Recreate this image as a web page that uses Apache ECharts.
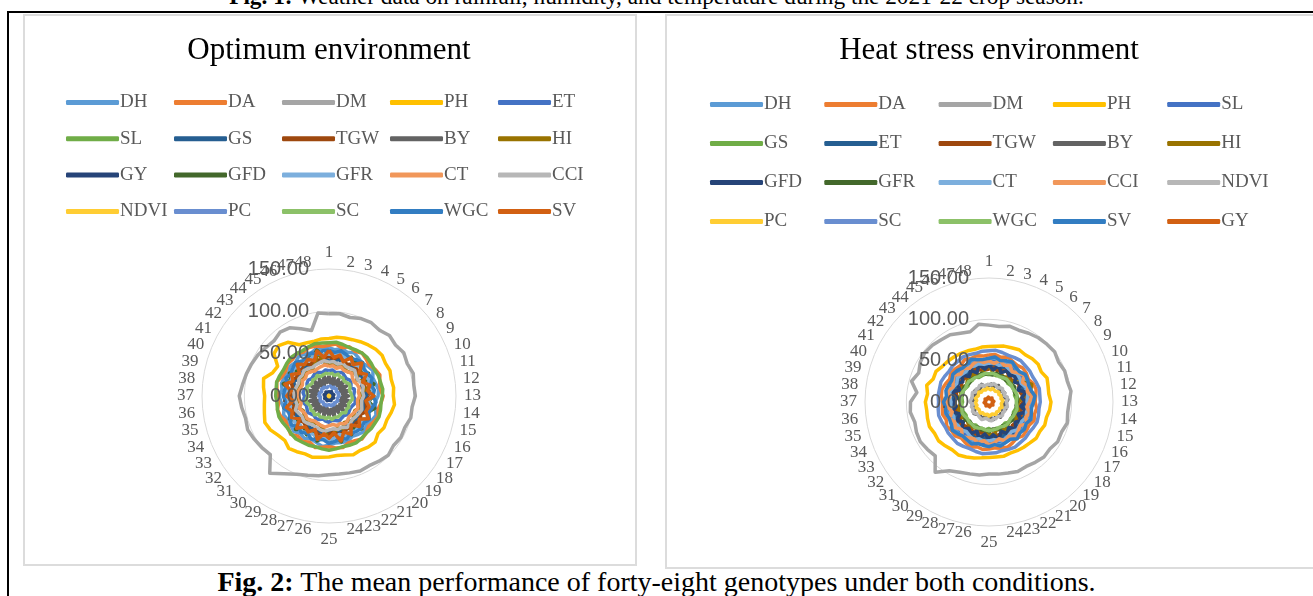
<!DOCTYPE html>
<html>
<head>
<meta charset="utf-8">
<script src="https://cdn.jsdelivr.net/npm/echarts@6/dist/echarts.min.js"></script>
<style>
  html, body { margin: 0; padding: 0; background: #fff; }
  #page { position: relative; width: 1313px; height: 596px; overflow: hidden; background: #fff; }
  .cap { position: absolute; left: 0; width: 1313px; text-align: center; font-family: 'Liberation Serif', serif; color: #000; white-space: nowrap; }
  #cap1 { top: -15px; font-size: 23.3px; line-height: 23px; }
  #cap2 { top: 567px; font-size: 28px; line-height: 30px; }
  #frame { position: absolute; left: 7px; top: 11px; width: 1320px; height: 600px; border-top: 2px solid #000; border-left: 2px solid #000; }
  .panel { position: absolute; border: 2px solid #dcdcdc; box-sizing: border-box; }
  #chart { position: absolute; left: 0; top: 0; width: 1313px; height: 596px; }
</style>
</head>
<body>
<div id="page">
  <div class="cap" id="cap1"><b>Fig. 1:</b> Weather data on rainfall, humidity, and temperature during the 2021-22 crop season.</div>
  <div id="frame"></div>
  <div class="panel" style="left:23px;top:14px;width:614px;height:552px;"></div>
  <div class="panel" style="left:665px;top:14px;width:660px;height:555px;"></div>
  <div class="cap" id="cap2"><b>Fig. 2:</b> The mean performance of forty-eight genotypes under both conditions.</div>
  <div id="chart"></div>
</div>
<script>
// genotype labels round the radar
var genotypes = ['1','2','3','4','5','6','7','8','9','10','11','12','13','14','15','16',
  '17','18','19','20','21','22','23','24','25','26','27','28','29','30','31','32',
  '33','34','35','36','37','38','39','40','41','42','43','44','45','46','47','48'];
var radiusTicks = [0, 50, 100, 150];

// legend order of each panel
var optNames = ['DH','DA','DM','PH','ET','SL','GS','TGW','BY','HI','GY','GFD','GFR','CT','CCI','NDVI','PC','SC','WGC','SV'];
var heatNames = ['DH','DA','DM','PH','SL','GS','ET','TGW','BY','HI','GFD','GFR','CT','CCI','NDVI','PC','SC','WGC','SV','GY'];

// Optimum environment
var optDH = [57,55,58,56,59,57,55,58,60,56,57,59,58,55,57,60,58,56,59,57,55,58,57,56,58,60,57,55,58,56,59,57,56,58,55,57,59,56,58,57,55,58,56,59,57,55,58,56];
var optDA = [60,62,59,63,61,64,62,60,63,65,62,61,64,62,60,63,61,59,62,64,61,60,63,62,60,61,63,59,62,60,64,61,59,62,63,60,61,62,64,60,59,62,61,63,60,62,61,59];
var optDM = [97,98,96,99,100,98,101,99,102,100,103,101,102,99,100,97,98,96,99,97,95,96,94,93,93,95,97,100,106,115,98,100,102,104,102,104,106,103,101,99,97,94,92,95,93,86,80,99];
var optPH = [68,70,71,72,74,76,78,79,77,78,76,77,76,78,76,74,75,73,77,76,74,75,72,71,72,73,75,74,76,78,74,76,80,82,79,77,76,78,80,72,70,82,84,80,70,68,67,68];
var optET = [30,31,29,30,32,30,29,31,30,28,31,30,29,31,32,30,29,30,31,29,30,32,30,29,31,30,28,30,31,29,30,32,30,29,31,30,29,31,30,28,30,31,29,30,32,30,29,31];
var optSL = [63,64,63,62,63,64,64,63,62,63,63,64,63,62,63,64,63,63,62,63,64,63,62,63,64,63,62,63,63,64,63,62,63,64,63,62,63,63,64,63,62,63,64,63,62,63,64,63];
var optGS = [43,41,45,42,40,44,43,41,46,42,40,43,45,41,42,44,40,43,42,45,41,43,44,40,42,45,43,41,44,42,40,43,45,42,41,44,43,40,42,45,41,43,42,44,40,43,41,42];
var optTGW = [47,44,49,45,43,48,46,44,50,45,43,47,49,44,46,48,43,47,45,49,44,46,48,43,45,49,47,44,48,45,43,47,49,45,44,48,46,43,45,49,44,47,46,48,43,46,44,45];
var optBY = [24,15,25,14,23,16,26,15,24,14,25,16,23,15,26,14,24,16,25,15,23,14,26,16,24,15,25,14,23,16,26,15,24,14,25,16,23,15,26,14,24,16,25,15,23,14,26,16];
var optHI = [36,38,35,40,37,36,39,42,38,45,53,40,37,36,39,38,35,37,40,38,36,42,39,44,52,41,37,35,38,36,39,37,35,38,40,36,37,39,36,38,41,37,39,36,38,42,53,40];
var optGY = [5,5,4,5,6,5,5,4,5,5,6,5,4,5,5,6,5,5,4,5,5,6,5,5,4,5,5,6,5,4,5,5,6,5,5,4,5,5,6,5,4,5,5,6,5,5,4,5];
var optGFD = [54,48,55,47,53,50,56,46,54,49,55,48,53,47,56,50,54,46,55,49,53,48,56,47,54,50,55,46,53,49,56,48,54,47,55,50,53,46,56,49,54,48,55,47,53,50,56,48];
var optGFR = [50,48,52,49,51,47,50,53,48,51,49,52,50,47,51,49,53,48,50,52,49,51,47,50,52,48,51,49,50,53,48,51,49,52,47,50,51,49,52,48,50,53,49,51,48,50,52,49];
var optCT = [35,36,34,37,35,36,38,35,34,36,37,35,36,34,35,37,36,35,34,36,38,35,36,34,35,37,36,35,34,36,37,35,36,38,34,35,36,37,35,34,36,35,37,36,34,35,36,37];
var optCCI = [40,41,39,42,40,41,43,40,39,41,42,40,41,39,40,42,41,40,39,41,43,40,41,39,40,42,41,40,39,41,42,40,41,43,39,40,41,42,40,39,41,40,42,41,39,40,41,42];
var optNDVI = [0.8,0.7,0.8,0.8,0.7,0.8,0.8,0.7,0.8,0.8,0.7,0.8,0.8,0.7,0.8,0.8,0.7,0.8,0.8,0.7,0.8,0.8,0.7,0.8,0.8,0.7,0.8,0.8,0.7,0.8,0.8,0.7,0.8,0.8,0.7,0.8,0.8,0.7,0.8,0.8,0.7,0.8,0.8,0.7,0.8,0.8,0.7,0.8];
var optPC = [11,12,11,10,12,11,12,11,10,11,12,11,12,11,10,11,12,11,11,10,12,11,12,11,10,11,12,11,12,11,10,11,12,11,11,10,12,11,12,11,10,11,12,11,12,11,10,11];
var optSC = [26,27,25,28,26,27,25,26,28,27,25,26,27,28,26,25,27,26,28,25,26,27,26,28,25,27,26,27,25,28,26,27,25,26,28,27,25,26,27,28,26,25,27,26,28,25,26,27];
var optWGC = [54,52,55,53,51,54,56,52,53,55,51,54,52,56,53,51,55,52,54,53,51,55,52,54,56,52,53,55,51,54,52,56,53,51,55,52,54,53,51,55,52,54,56,52,53,55,51,54];
var optSV = [54,46,50,44,52,47,55,45,51,43,50,46,53,44,49,47,54,45,51,43,52,46,55,44,50,45,53,43,49,46,54,44,51,47,52,43,50,45,54,46,51,44,53,47,50,45,55,46];

// Heat stress environment
var heatDH = [50,52,49,51,53,50,48,51,52,49,50,53,51,48,50,52,49,51,50,53,48,50,52,49,51,50,48,52,50,49,51,53,50,48,51,50,52,49,51,50,48,52,51,49,50,53,50,49];
var heatDA = [57,58,56,59,57,56,58,57,55,58,59,57,56,58,57,59,56,57,58,55,57,59,58,56,57,58,56,59,57,55,58,57,59,56,58,57,56,58,59,57,55,58,57,56,59,57,58,56];
var heatDM = [93,92,95,94,96,98,99,100,97,99,98,100,97,96,98,95,96,93,94,92,90,91,89,88,87,89,90,92,96,107,92,94,96,95,93,96,95,88,97,92,96,98,97,95,94,90,88,95];
var heatPH = [67,68,70,71,73,72,74,75,73,76,74,73,75,74,72,73,71,72,70,69,68,67,68,67,67,68,70,72,74,73,75,77,76,78,77,76,77,75,78,73,74,71,70,69,68,67,66,67];
var heatSL = [48,49,47,48,50,48,47,49,48,47,49,50,48,47,48,49,47,48,50,49,47,48,49,48,47,50,48,49,47,48,49,48,50,47,48,49,47,48,50,48,47,49,48,47,49,50,48,47];
var heatGS = [33,34,33,35,33,34,32,33,35,34,32,33,34,35,33,32,34,33,35,32,33,34,33,35,32,34,33,34,32,35,33,34,32,33,35,34,32,33,34,35,33,32,34,33,35,32,33,34];
var heatET = [44,46,43,45,47,44,43,46,45,43,44,47,45,43,44,46,43,45,44,47,43,44,46,43,45,44,43,46,44,43,45,47,44,43,45,44,46,43,45,44,43,46,45,43,44,47,44,43];
var heatTGW = [40,42,39,41,43,40,38,41,42,39,40,43,41,38,40,42,39,41,40,43,38,40,42,39,41,40,38,42,40,39,41,43,40,38,41,40,42,39,41,40,38,42,41,39,40,43,40,39];
var heatBY = [20,22,19,21,23,20,18,21,22,19,20,23,21,18,20,22,19,21,20,23,18,20,22,19,21,20,18,22,20,19,21,23,20,18,21,20,22,19,21,20,18,22,21,19,20,23,20,19];
var heatHI = [44,36,34,37,35,38,36,40,48,56,52,40,36,34,37,35,38,36,34,37,39,36,35,42,38,36,34,37,35,38,36,34,37,35,38,36,34,37,35,38,36,34,37,35,38,36,34,40];
var heatGFD = [45,39,46,38,44,40,47,39,45,38,46,40,44,39,47,38,45,40,46,39,44,38,47,40,45,39,46,38,44,40,47,39,45,38,46,40,44,39,47,38,45,40,46,39,44,38,47,40];
var heatGFR = [34,33,36,34,35,33,34,35,36,33,34,35,34,33,35,34,33,36,34,35,33,35,34,33,36,34,35,33,35,34,33,36,34,35,33,34,35,36,33,34,35,34,33,35,34,33,36,34];
var heatCT = [47,48,46,49,47,46,48,47,45,48,49,47,46,48,47,49,46,47,48,45,47,49,48,46,47,48,46,49,47,45,48,47,49,46,48,47,46,48,49,47,45,48,47,46,49,47,48,46];
var heatCCI = [50,47,52,48,51,46,50,53,47,51,48,52,49,46,51,48,53,47,50,52,48,51,46,50,52,47,51,48,50,53,47,51,48,52,46,50,51,48,52,47,50,53,48,51,47,50,52,48];
var heatNDVI = [22,21,23,22,20,22,23,21,22,20,23,22,21,22,23,20,22,21,23,22,20,22,21,23,22,20,21,23,22,21,20,22,23,21,22,20,23,22,21,22,23,20,22,21,23,22,20,21];
var heatPC = [16,15,17,16,15,16,17,15,16,16,15,17,16,15,16,17,15,16,16,15,17,16,15,16,17,15,16,16,15,17,16,15,16,17,15,16,16,15,17,16,15,16,17,15,16,16,15,17];
var heatSC = [62,63,62,61,62,63,62,62,61,62,63,62,62,61,62,63,62,61,62,62,63,62,61,62,62,63,62,61,62,63,62,62,61,62,63,62,61,62,62,63,62,61,62,62,63,62,61,62];
var heatWGC = [34,35,34,33,34,35,34,34,33,34,35,34,33,34,35,34,34,33,34,35,34,33,34,34,35,34,33,34,35,34,34,33,34,35,34,33,34,34,35,34,33,34,35,34,34,33,34,35];
var heatSV = [53,55,52,54,56,53,52,55,54,52,53,56,54,52,53,55,52,54,53,56,52,53,55,52,54,53,52,55,53,52,54,56,53,52,54,53,55,52,54,53,52,55,54,52,53,56,53,52];
var heatGY = [5,5,4,5,5,6,5,5,4,5,5,6,5,5,4,5,5,6,5,5,4,5,5,6,5,5,4,5,5,6,5,5,4,5,5,6,5,5,4,5,5,6,5,5,4,5,5,6];

var optData = { DH: optDH, DA: optDA, DM: optDM, PH: optPH, ET: optET, SL: optSL, GS: optGS, TGW: optTGW, BY: optBY, HI: optHI,
  GY: optGY, GFD: optGFD, GFR: optGFR, CT: optCT, CCI: optCCI, NDVI: optNDVI, PC: optPC, SC: optSC, WGC: optWGC, SV: optSV };
var heatData = { DH: heatDH, DA: heatDA, DM: heatDM, PH: heatPH, SL: heatSL, GS: heatGS, ET: heatET, TGW: heatTGW, BY: heatBY, HI: heatHI,
  GFD: heatGFD, GFR: heatGFR, CT: heatCT, CCI: heatCCI, NDVI: heatNDVI, PC: heatPC, SC: heatSC, WGC: heatWGC, SV: heatSV, GY: heatGY };

// excel office palette, by series position
var palette = ['#5B9BD5','#ED7D31','#A5A5A5','#FFC000','#4472C4','#70AD47','#255E91','#9E480E','#636363','#997300',
  '#264478','#43682B','#7CAFDD','#F1975A','#B7B7B7','#FFCD33','#698ED0','#8CC168','#327DC2','#D26012'];

var grey = '#595959';
var serif = "'Liberation Serif', 'Times New Roman', serif";

// echarts radar runs anticlockwise, excel clockwise: keep first, reverse rest
function cw(arr) {
  return [arr[0]].concat(arr.slice(1).reverse());
}

var panels = [
  { title: 'Optimum environment', names: optNames, data: optData, key: 'o:', cx: 329, cy: 396, r: 127,
    legX: 66, legDx: 108, legY: 103, legDy: 36.3 },
  { title: 'Heat stress environment', names: heatNames, data: heatData, key: 'h:', cx: 989, cy: 402, r: 124,
    legX: 710, legDx: 114.3, legY: 105, legDy: 39 }
];

var titles = [], radars = [], polars = [], angleAxes = [], radiusAxes = [], legends = [], series = [];

panels.forEach(function (p, k) {
  titles.push({
    text: p.title, left: p.cx, top: 35, textAlign: 'center', padding: 0,
    textStyle: { fontFamily: serif, fontSize: 31, fontWeight: 'normal', color: '#000' }
  });
  radars.push({
    center: [p.cx, p.cy], radius: p.r, startAngle: 90, shape: 'circle', splitNumber: 3,
    indicator: cw(genotypes).map(function (g) { return { name: g, min: 0, max: 150 }; }),
    axisName: { color: grey, fontFamily: serif, fontSize: 17 },
    nameGap: 8,
    splitLine: { lineStyle: { color: '#d9d9d9', width: 1 } },
    splitArea: { show: false },
    axisLine: { show: false },
    axisTick: { show: false },
    axisLabel: { show: false }
  });
  polars.push({ center: [p.cx, p.cy], radius: p.r });
  angleAxes.push({ polarIndex: k, type: 'value', min: 0, max: 360, startAngle: 90, show: false });
  radiusAxes.push({
    polarIndex: k, type: 'value', min: radiusTicks[0], max: radiusTicks[radiusTicks.length - 1],
    interval: radiusTicks[1] - radiusTicks[0], z: 10,
    axisLine: { show: false }, axisTick: { show: false }, splitLine: { show: false },
    axisLabel: {
      color: grey, fontFamily: "'Liberation Sans', Arial, sans-serif", fontSize: 20, margin: 20,
      formatter: function (v) { return v.toFixed(2); }
    }
  });
  p.names.forEach(function (n, i) {
    var full = p.key + n;
    legends.push({
      data: [full],
      left: p.legX + (i % 5) * p.legDx,
      top: p.legY + Math.floor(i / 5) * p.legDy - 10,
      icon: 'roundRect', itemWidth: 53, itemHeight: 5, padding: 0, itemGap: 0,
      selectedMode: false,
      textStyle: { fontFamily: serif, fontSize: 19, color: grey, padding: [0, 0, 0, -4] },
      formatter: function (name) { return name.slice(2); }
    });
    series.push({
      type: 'radar', radarIndex: k, symbol: 'none',
      lineStyle: { color: palette[i], width: 3.5 },
      itemStyle: { color: palette[i] },
      data: [{ name: full, value: cw(p.data[n]) }]
    });
  });
});

var chart = echarts.init(document.getElementById('chart'));
chart.setOption({
  animation: false,
  title: titles,
  legend: legends,
  radar: radars,
  polar: polars,
  angleAxis: angleAxes,
  radiusAxis: radiusAxes,
  series: series
});
</script>
</body>
</html>
